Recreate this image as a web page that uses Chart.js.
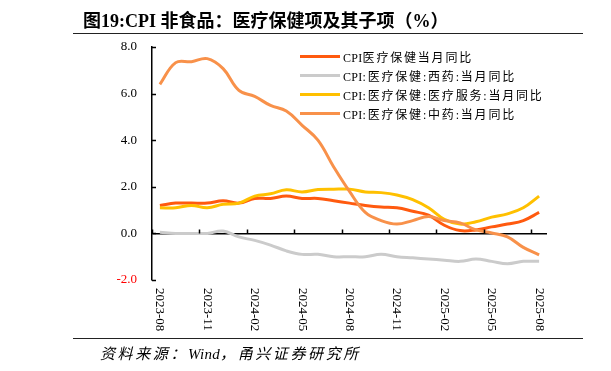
<!DOCTYPE html>
<html>
<head>
<meta charset="utf-8">
<script src="https://cdn.jsdelivr.net/npm/chart.js"></script>
<style>
  html, body { margin: 0; padding: 0; background: #fff; }
  #wrap { position: relative; width: 611px; height: 371px; overflow: hidden; }
  #myChart { position: absolute; left: 0; top: 0; }
  .title {
    position: absolute; left: 83px; top: 6px;
    font: bold 18px "Liberation Serif", "Noto Sans CJK SC", serif;
    color: #000; white-space: nowrap;
  }
  .rule { position: absolute; left: 73px; width: 510px; height: 0; border-top: 1.5px solid #222; }
  .source {
    position: absolute; left: 100px; top: 342px;
    font: italic 15px "Liberation Serif", "Noto Sans CJK SC", serif;
    letter-spacing: 2.6px; color: #000; white-space: nowrap;
  }
  .latin { letter-spacing: 0.3px; }
  .legend { position: absolute; left: 300px; top: 47px; }
  .legend .row { height: 19px; display: flex; align-items: center; white-space: nowrap; }
  .legend .swatch { width: 40px; height: 3px; margin-right: 3px; }
  .legend .txt { font: 12px "Liberation Serif", "Noto Sans CJK SC", serif; letter-spacing: 1.8px; color: #000; }
</style>
</head>
<body>
<div id="wrap">
  <canvas id="myChart" width="611" height="371"></canvas>
  <div class="title">图19:CPI 非食品：医疗保健项及其子项（%）</div>
  <div class="rule" style="top:33px"></div>
  <div class="legend" id="legend"></div>
  <div class="rule" style="top:338px"></div>
  <div class="source">资料来源：<span class="latin">Wind</span>，甬兴证券研究所</div>
</div>
<script>
// 월별 라벨 2023-08 ~ 2025-08
const months = ["2023-08","2023-09","2023-10","2023-11","2023-12","2024-01","2024-02","2024-03","2024-04",
  "2024-05","2024-06","2024-07","2024-08","2024-09","2024-10","2024-11","2024-12","2025-01","2025-02",
  "2025-03","2025-04","2025-05","2025-06","2025-07","2025-08"];

const seriesNames = ["CPI医疗保健当月同比", "CPI:医疗保健:西药:当月同比", "CPI:医疗保健:医疗服务:当月同比", "CPI:医疗保健:中药:当月同比"];
const seriesColors = ["#FF5A0F", "#CBCBCB", "#FFC000", "#F8914A"];

const healthcare = [1.2, 1.3, 1.3, 1.3, 1.4, 1.3, 1.5, 1.5, 1.6, 1.5, 1.5, 1.4, 1.3,
  1.2, 1.13, 1.1, 0.95, 0.78, 0.35, 0.12, 0.15, 0.28, 0.4, 0.55, 0.9];
const westernMedicine = [0.05, 0.0, 0.0, 0.0, 0.1, -0.15, -0.3, -0.5, -0.75, -0.9, -0.9, -1.0, -1.0,
  -1.0, -0.9, -1.0, -1.05, -1.1, -1.15, -1.2, -1.1, -1.2, -1.3, -1.2, -1.2];
const medicalServices = [1.1, 1.1, 1.2, 1.1, 1.25, 1.3, 1.6, 1.7, 1.87, 1.78, 1.88, 1.9, 1.9,
  1.78, 1.75, 1.65, 1.45, 1.1, 0.6, 0.4, 0.5, 0.7, 0.84, 1.1, 1.6];
const chineseMedicine = [6.4, 7.33, 7.37, 7.5, 7.07, 6.14, 5.88, 5.49, 5.25, 4.64, 4.0, 2.85, 1.8,
  0.9, 0.55, 0.4, 0.55, 0.72, 0.55, 0.45, 0.15, 0.02, -0.15, -0.6, -0.92];

const yMin = -2, yMax = 8, yStep = 2;
const tickEvery = 3;
const serif = '"Liberation Serif", "Noto Sans CJK SC", serif';

// 축 안쪽 눈금 + 세로 라벨
const axisExtras = {
  id: 'axisExtras',
  afterDraw(chart) {
    const ctx = chart.ctx;
    const x = chart.scales.x, y = chart.scales.y;
    const area = chart.chartArea;
    const step = (area.right - area.left) / months.length;
    const zeroY = y.getPixelForValue(0);
    ctx.save();
    ctx.strokeStyle = '#000';
    ctx.lineWidth = 1.5;
    ctx.beginPath();
    for (let i = 0; i < months.length; i += tickEvery) {
      const px = Math.round(area.left + i * step) + 0.5;
      ctx.moveTo(px, zeroY);
      ctx.lineTo(px, zeroY - 4);
    }
    y.ticks.forEach((t) => {
      const py = Math.round(y.getPixelForValue(t.value)) + 0.5;
      ctx.moveTo(area.left, py);
      ctx.lineTo(area.left + 4, py);
    });
    ctx.stroke();

    ctx.fillStyle = '#000';
    ctx.font = '13px ' + serif;
    ctx.textAlign = 'left';
    ctx.textBaseline = 'middle';
    for (let i = 0; i < months.length; i += tickEvery) {
      const px = x.getPixelForValue(i);
      ctx.save();
      ctx.translate(px, area.bottom + 8);
      ctx.rotate(Math.PI / 2);
      ctx.fillText(months[i], 0, 0);
      ctx.restore();
    }
    ctx.restore();
  }
};

const allSeries = [healthcare, westernMedicine, medicalServices, chineseMedicine];

const config = {
  type: 'line',
  data: {
    labels: months,
    datasets: allSeries.map((d, i) => ({
      label: seriesNames[i],
      data: d,
      borderColor: seriesColors[i],
      backgroundColor: seriesColors[i],
      borderWidth: 3,
      pointRadius: 0,
      tension: 0.4,
      order: allSeries.length - i
    }))
  },
  options: {
    responsive: false,
    animation: false,
    layout: { padding: { top: 47, right: 64, bottom: 0, left: 0 } },
    plugins: {
      legend: { display: false },
      tooltip: { enabled: false }
    },
    scales: {
      x: {
        type: 'category',
        offset: true,
        grid: { display: false },
        border: { display: false },
        ticks: { display: false },
        afterFit: (s) => { s.height = 91; }
      },
      y: {
        min: yMin,
        max: yMax,
        ticks: {
          stepSize: yStep,
          padding: 15,
          font: { family: serif, size: 13 },
          color: (c) => (c.tick && c.tick.value === yMin ? '#FF0000' : '#000'),
          callback: (v) => v.toFixed(1)
        },
        grid: {
          drawTicks: false,
          color: (c) => (c.tick && c.tick.value === 0 ? '#000' : 'rgba(0,0,0,0)'),
          lineWidth: 1.5
        },
        border: { display: true, color: '#000', width: 1.5 },
        afterFit: (s) => { s.width = 152; }
      }
    }
  },
  plugins: [axisExtras]
};

const myChart = new Chart(document.getElementById('myChart'), config);

// 범례 (CPI 부분은 자간 없이)
const legendDiv = document.getElementById('legend');
myChart.data.datasets.forEach((ds) => {
  const row = document.createElement('div');
  row.classList.add('row');
  const text = ds.label.replace(/^CPI/, '<span class="latin">CPI</span>');
  row.innerHTML = `<div class="swatch" style="background-color:${ds.borderColor};"></div><div class="txt">${text}</div>`;
  legendDiv.appendChild(row);
});
</script>
</body>
</html>
